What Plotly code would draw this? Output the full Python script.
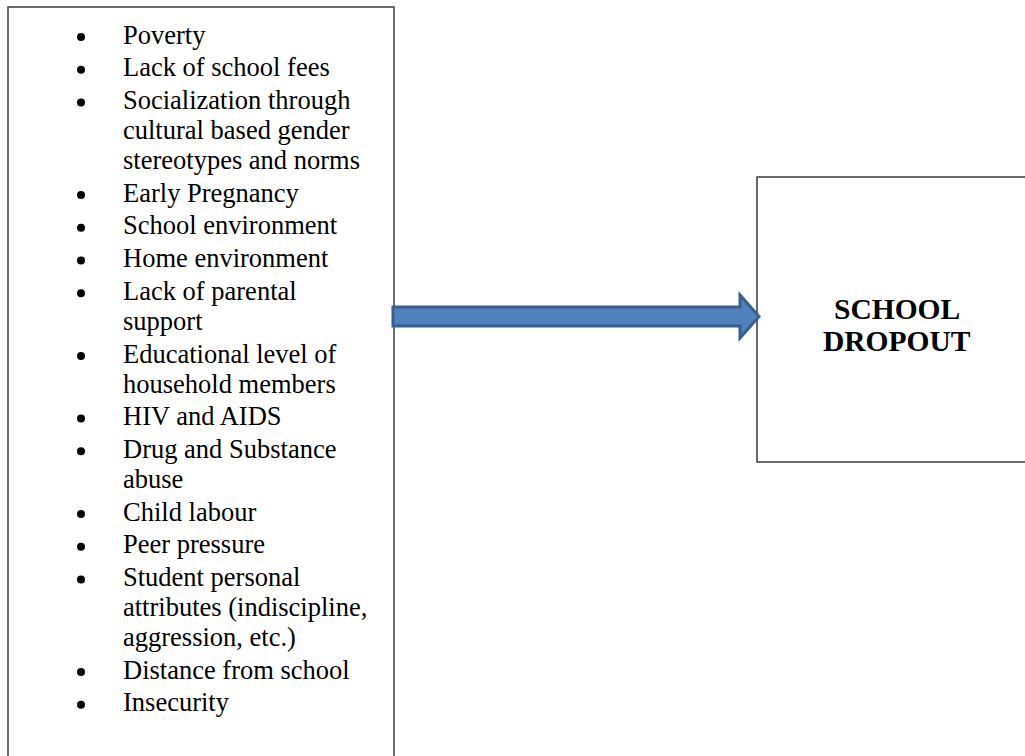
import plotly.graph_objects as go

# factors listed in the left box, each entry is one bullet (wrapped lines)
factors = [
    ["Poverty"],
    ["Lack of school fees"],
    ["Socialization through", "cultural based gender", "stereotypes and norms"],
    ["Early Pregnancy"],
    ["School environment"],
    ["Home environment"],
    ["Lack of parental", "support"],
    ["Educational level of", "household members"],
    ["HIV and AIDS"],
    ["Drug and Substance", "abuse"],
    ["Child labour"],
    ["Peer pressure"],
    ["Student personal", "attributes (indiscipline,", "aggression, etc.)"],
    ["Distance from school"],
    ["Insecurity"],
]
outcome = ["SCHOOL", "DROPOUT"]

W, H = 1025, 756
FONT = "Liberation Serif, Times New Roman, serif"

# lay out the wrapped lines
first_y = 37
line_gap = 30
item_gap = 32.7
text_x, bullet_x = 123, 81
line_y, line_txt, bullet_y = [], [], []
y = first_y
for i, item in enumerate(factors):
    if i > 0:
        y += item_gap
    bullet_y.append(y)
    for j, ln in enumerate(item):
        if j > 0:
            y += line_gap
        line_y.append(y)
        line_txt.append(ln)

fig = go.Figure()
fig.add_trace(go.Scatter(
    x=[bullet_x] * len(bullet_y), y=bullet_y, mode="markers",
    marker=dict(size=8, color="black"), hoverinfo="skip"
))
fig.add_trace(go.Scatter(
    x=[text_x] * len(line_y), y=line_y, mode="text", text=line_txt,
    textposition="middle right",
    textfont=dict(family=FONT, size=26.5, color="black"), hoverinfo="skip"
))

box_line = dict(color="#3a3a3a", width=1.5)
shapes = [
    # left box (runs off the bottom)
    dict(type="rect", x0=8, x1=394, y0=7, y1=H + 10, line=box_line),
    # right box (runs off the right)
    dict(type="rect", x0=757, x1=W + 10, y0=177, y1=462, line=box_line),
    # block arrow
    dict(type="path",
         path="M 393 307 L 740 307 L 740 295 L 759 316.5 L 740 338 L 740 326 L 393 326 Z",
         fillcolor="#4F81BD", line=dict(color="#3A5F8D", width=3)),
]

for k, word in enumerate(outcome):
    fig.add_annotation(
        x=897, y=309 + k * 32, text="<b>%s</b>" % word, showarrow=False,
        xanchor="center", yanchor="middle",
        font=dict(family=FONT, size=29.5, color="black")
    )

fig.update_layout(
    width=W, height=H, margin=dict(l=0, r=0, t=0, b=0),
    paper_bgcolor="white", plot_bgcolor="white", showlegend=False,
    shapes=shapes,
    xaxis=dict(range=[0, W], visible=False, fixedrange=True),
    yaxis=dict(range=[H, 0], visible=False, fixedrange=True),
)

fig.write_html(
    "out.html", config={"displayModeBar": False},
    post_script="document.body.style.margin='0';document.body.style.overflow='hidden';"
)
